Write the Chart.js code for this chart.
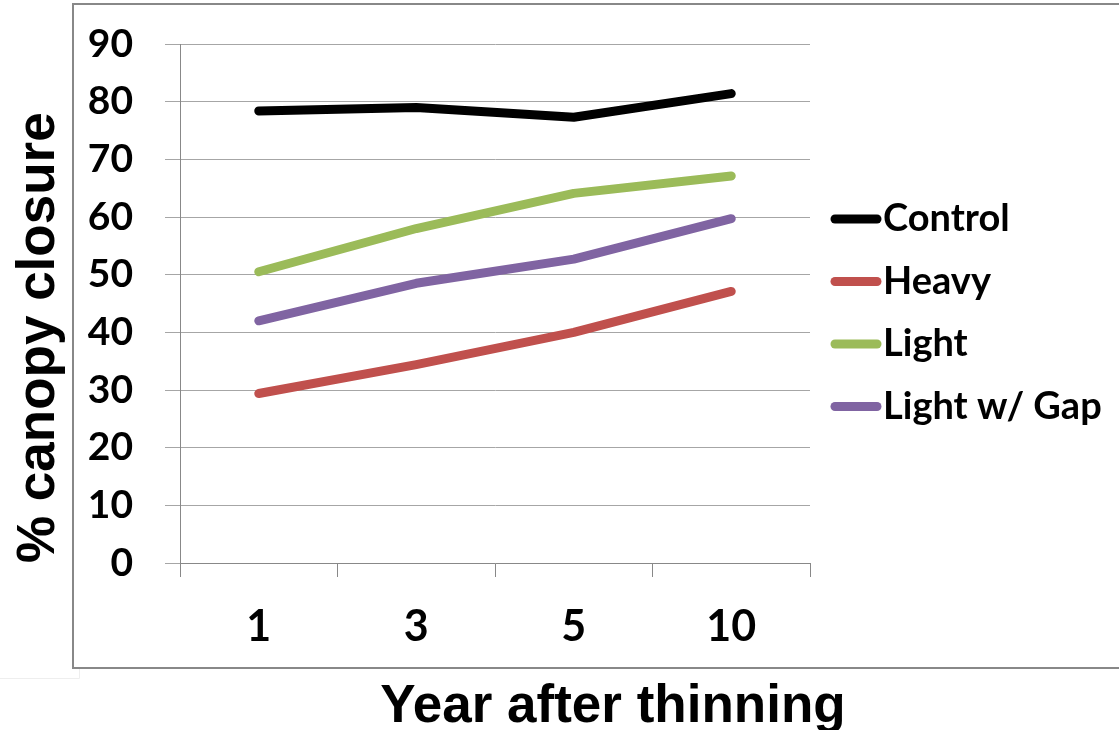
<!DOCTYPE html>
<html>
<head>
<meta charset="utf-8">
<script src="https://cdn.jsdelivr.net/npm/chart.js@4.4.1/dist/chart.umd.min.js"></script>
<style>
  html, body { margin: 0; padding: 0; background: #fff; }
  #wrap { width: 1119px; height: 730px; }
</style>
</head>
<body>
<div id="wrap"><canvas id="canopyChart" width="1119" height="730"></canvas></div>
<script>
// Values
const years = ['1', '3', '5', '10'];
const control = [78.4, 79.0, 77.3, 81.4];
const heavy = [29.4, 34.4, 40.0, 47.1];
const light = [50.5, 58.0, 64.1, 67.1];
const lightGap = [42.0, 48.5, 52.7, 59.7];
const seriesNames = ['Control', 'Heavy', 'Light', 'Light w/ Gap'];
const seriesColors = ['#000000', '#c0504d', '#9bbb59', '#8064a2'];
const yMin = 0;
const yMax = 90;
const yStep = 10;

// Frame, x title and legend drawn around the chart
const decorPlugin = {
    id: 'decor',
    beforeDraw(chart) {
        const ctx = chart.ctx;
        ctx.save();
        ctx.fillStyle = '#ffffff';
        ctx.fillRect(0, 0, chart.width, chart.height);
        ctx.strokeStyle = '#888888';
        ctx.lineWidth = 2;
        ctx.strokeRect(73, 4, chart.width, 664);
        ctx.strokeStyle = '#eeeeee';
        ctx.lineWidth = 1;
        ctx.beginPath();
        ctx.moveTo(0, 678.5);
        ctx.lineTo(79.5, 678.5);
        ctx.lineTo(79.5, 669);
        ctx.stroke();
        ctx.restore();
    },
    afterDraw(chart) {
        const ctx = chart.ctx;
        ctx.save();
        // x axis title
        ctx.fillStyle = '#000000';
        ctx.font = 'bold 53px "Liberation Sans", Arial, sans-serif';
        ctx.textAlign = 'center';
        ctx.textBaseline = 'alphabetic';
        ctx.fillText('Year after thinning', 613, 722);

        // legend
        chart.data.datasets.forEach(function(ds, i) {
            const y = 219 + i * 62.5;
            ctx.strokeStyle = ds.borderColor;
            ctx.lineWidth = 9;
            ctx.lineCap = 'round';
            ctx.beginPath();
            ctx.moveTo(835, y);
            ctx.lineTo(877, y);
            ctx.stroke();
            ctx.fillStyle = '#000000';
            ctx.font = 'bold 38px Lato, "Open Sans", sans-serif';
            ctx.textAlign = 'left';
            ctx.textBaseline = 'middle';
            ctx.fillText(ds.label, 883, y);
        });
        ctx.restore();
    }
};

function makeSeries(name, values, color) {
    return {
        label: name,
        data: values,
        borderColor: color,
        backgroundColor: color,
        borderWidth: 9,
        borderCapStyle: 'round',
        borderJoinStyle: 'round',
        pointRadius: 0,
        pointHoverRadius: 0,
        tension: 0,
        fill: false
    };
}

new Chart(document.getElementById('canopyChart'), {
    type: 'line',
    data: {
        labels: years,
        datasets: [
            makeSeries(seriesNames[0], control, seriesColors[0]),
            makeSeries(seriesNames[1], heavy, seriesColors[1]),
            makeSeries(seriesNames[2], light, seriesColors[2]),
            makeSeries(seriesNames[3], lightGap, seriesColors[3])
        ]
    },
    options: {
        responsive: false,
        animation: false,
        devicePixelRatio: 1,
        layout: {
            padding: { left: 0, top: 44, right: 309, bottom: 0 }
        },
        scales: {
            x: {
                type: 'category',
                offset: true,
                afterFit: function(scale) { scale.height = 167; },
                grid: {
                    offset: true,
                    drawOnChartArea: false,
                    drawTicks: true,
                    tickLength: 14,
                    color: '#888888',
                    lineWidth: 1
                },
                border: { color: '#888888', width: 1 },
                ticks: {
                    color: '#000000',
                    padding: 24,
                    maxRotation: 0,
                    font: { family: 'Lato, "Open Sans", sans-serif', size: 43, weight: 'bold' }
                }
            },
            y: {
                min: yMin,
                max: yMax,
                afterFit: function(scale) {
                    scale.width = 180;
                    scale.paddingTop = 20;
                    scale.paddingBottom = 20;
                },
                grid: {
                    color: '#a6a6a6',
                    lineWidth: 1,
                    tickLength: 15
                },
                border: { color: '#888888', width: 1 },
                ticks: {
                    stepSize: yStep,
                    color: '#000000',
                    padding: 32,
                    font: { family: 'Lato, "Open Sans", sans-serif', size: 39, weight: 'bold' }
                },
                title: {
                    display: true,
                    text: '% canopy closure',
                    align: 'start',
                    color: '#000000',
                    padding: { top: 8, bottom: 0 },
                    font: { family: '"Liberation Sans", Arial, sans-serif', size: 53, weight: 'bold' }
                }
            }
        },
        plugins: {
            legend: { display: false },
            tooltip: { enabled: false },
            title: { display: false }
        }
    },
    plugins: [decorPlugin]
});
</script>
</body>
</html>
